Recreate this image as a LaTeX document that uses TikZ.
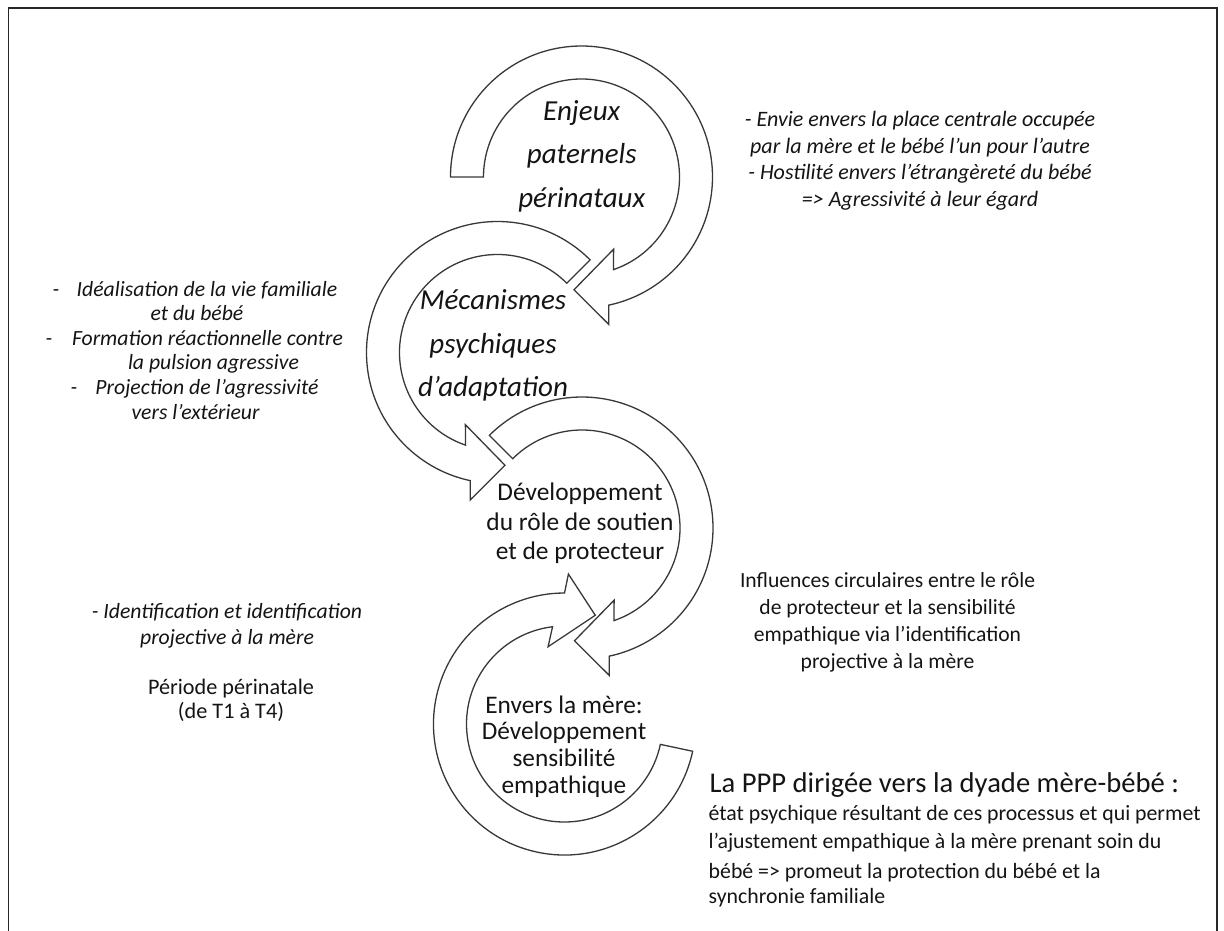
\documentclass[tikz,border=0pt]{standalone}
\usepackage{fontspec}
\setmainfont{Carlito}
\usetikzlibrary{calc}

% ring geometry of the curved arrows
\def\arRin{98}
\def\arRout{131}

\tikzset{
  arrowshape/.style={draw=black!78, fill=white, line width=1.3pt, line join=miter},
  frameline/.style={draw=black!85, line width=1.3pt},
  lbl/.style={inner sep=0pt, align=center, text=black!92},
  bigit/.style={font=\fontsize{29}{43.4}\selectfont\itshape},
  midup/.style={font=\fontsize{25.4}{29.3}\selectfont},
  noteit/.style={font=\fontsize{22}{26.4}\selectfont\itshape},
  listit/.style={lbl, anchor=base, font=\fontsize{21.7}{24.6}\selectfont\itshape},
  noteup/.style={font=\fontsize{21.6}{27}\selectfont},
}

% curved block arrow: centre x, centre y, tail angle, head angle, turning sense (+1/-1)
\newcommand\circarrow[5]{%
  \pgfmathsetmacro\arOJ{#4-#5*12}%
  \pgfmathsetmacro\arOB{#4-#5*10.5}%
  \pgfmathsetmacro\arTP{#4+#5*3.8}%
  \pgfmathsetmacro\arIB{#4-#5*24}%
  \pgfmathsetmacro\arIJ{#4-#5*19}%
  \draw[arrowshape]
    ($(#1,#2)+(#3:\arRout)$) arc[start angle=#3, end angle=\arOJ, radius=\arRout]
    -- ($(#1,#2)+(\arOB:150)$)
    -- ($(#1,#2)+(\arTP:113)$)
    -- ($(#1,#2)+(\arIB:79)$)
    -- ($(#1,#2)+(\arIJ:\arRin)$)
    arc[start angle=\arIJ, end angle=#3, radius=\arRin]
    -- cycle;
}

\begin{document}
\begin{tikzpicture}[x=1pt,y=-1pt]
\useasboundingbox (0,0) rectangle (1224,930);
\draw[frameline] (8.5,940) -- (8.5,8) -- (1217,8) -- (1217,940);

% the four curved arrows, bottom to top
\circarrow{564.5}{724}{12}{282}{1}
\circarrow{582}{528}{225}{450}{1}
\circarrow{497.5}{352.5}{-45}{-270}{-1}
\circarrow{581.5}{177}{180}{450}{1}

% texts inside the rings (anchor = baseline of the last line)
\node[lbl, bigit, anchor=base] (enjeux) at (581.7,207) {Enjeux\\paternels\\périnataux};
\node[lbl, bigit, anchor=base] (meca) at (493,396.7) {Mécanismes\\psychiques\\d’adaptation};
\node[lbl, midup, anchor=base] (devrole) at (580,559.3) {Développement\\du rôle de soutien\\et de protecteur};
\node[lbl, anchor=base, font=\fontsize{25.3}{26.7}\selectfont] (envers) at (564,793.3) {Envers la mère:\\Développement\\sensibilité\\empathique};

% side notes
\node[lbl, noteit, anchor=base] (envie) at (920,206) {- Envie envers la place centrale occupée\\par la mère et le bébé l’un pour l’autre\\- Hostilité envers l’étrangèreté du bébé\\=> Agressivité à leur égard};

% adaptation mechanisms, one line per node
\node[listit] (mdash1) at (56,296) {-};
\node[listit] (mline1) at (207,296) {Idéalisation de la vie familiale};
\node[listit] (mline2) at (197,320.6) {et du bébé};
\node[listit] (mdash3) at (49,345.2) {-};
\node[listit] (mline3) at (207.5,345.2) {Formation réactionnelle contre};
\node[listit] (mline4) at (213.5,369.8) {la pulsion agressive};
\node[listit] (mdash5) at (74,394.4) {-};
\node[listit] (mline5) at (207,394.4) {Projection de l’agressivité};
\node[listit] (mline6) at (195.5,419) {vers l’extérieur};

\node[lbl, anchor=base, font=\fontsize{21.7}{26}\selectfont\itshape] (ident) at (227,644) {- Identification et identification\\projective à la mère};
\node[lbl, anchor=base, font=\fontsize{22.2}{24}\selectfont] (periode) at (231,718) {Période périnatale\\(de T1 à T4)};

\node[lbl, noteup, anchor=base] (influ) at (887.5,668) {Influences circulaires entre le rôle\\de protecteur et la sensibilité\\empathique via l’identification\\projective à la mère};

\node[lbl, anchor=base west, font=\fontsize{28.6}{30}\selectfont] (ppp) at (709.5,792) {La PPP dirigée vers la dyade mère-bébé :};
\node[lbl, anchor=base west, align=left, font=\fontsize{21.8}{28.2}\selectfont] (etat) at (708.5,903.3)
  {état psychique résultant de ces processus et qui permet\\l’ajustement empathique à la mère prenant soin du\\[1.8pt]bébé => promeut la protection du bébé et la\\[-3.2pt]synchronie familiale};
\end{tikzpicture}
\end{document}
